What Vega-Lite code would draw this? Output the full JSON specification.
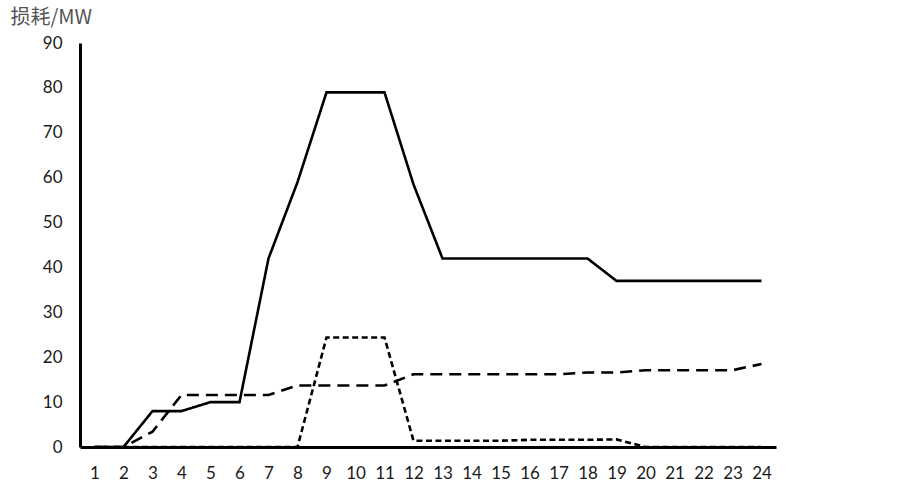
{
  "$schema": "https://vega.github.io/schema/vega-lite/v6.json",
  "width": 696,
  "height": 404,
  "autosize": {"type": "none"},
  "padding": {"left": 80, "top": 43, "right": 127, "bottom": 36},
  "background": "white",
  "config": {"view": {"stroke": null}, "font": "Lato"},
  "datasets": {
    "loss": [
      {"h": 1, "s": "A", "v": 0}, {"h": 2, "s": "A", "v": 0}, {"h": 3, "s": "A", "v": 8}, {"h": 4, "s": "A", "v": 8},
      {"h": 5, "s": "A", "v": 10}, {"h": 6, "s": "A", "v": 10}, {"h": 7, "s": "A", "v": 42}, {"h": 8, "s": "A", "v": 59},
      {"h": 9, "s": "A", "v": 79}, {"h": 10, "s": "A", "v": 79}, {"h": 11, "s": "A", "v": 79}, {"h": 12, "s": "A", "v": 58.5},
      {"h": 13, "s": "A", "v": 42}, {"h": 14, "s": "A", "v": 42}, {"h": 15, "s": "A", "v": 42}, {"h": 16, "s": "A", "v": 42},
      {"h": 17, "s": "A", "v": 42}, {"h": 18, "s": "A", "v": 42}, {"h": 19, "s": "A", "v": 37}, {"h": 20, "s": "A", "v": 37},
      {"h": 21, "s": "A", "v": 37}, {"h": 22, "s": "A", "v": 37}, {"h": 23, "s": "A", "v": 37}, {"h": 24, "s": "A", "v": 37},
      {"h": 1, "s": "B", "v": 0}, {"h": 2, "s": "B", "v": 0}, {"h": 3, "s": "B", "v": 3.4}, {"h": 4, "s": "B", "v": 11.6},
      {"h": 5, "s": "B", "v": 11.6}, {"h": 6, "s": "B", "v": 11.6}, {"h": 7, "s": "B", "v": 11.6}, {"h": 8, "s": "B", "v": 13.7},
      {"h": 9, "s": "B", "v": 13.7}, {"h": 10, "s": "B", "v": 13.7}, {"h": 11, "s": "B", "v": 13.7}, {"h": 12, "s": "B", "v": 16.2},
      {"h": 13, "s": "B", "v": 16.2}, {"h": 14, "s": "B", "v": 16.2}, {"h": 15, "s": "B", "v": 16.2}, {"h": 16, "s": "B", "v": 16.2},
      {"h": 17, "s": "B", "v": 16.2}, {"h": 18, "s": "B", "v": 16.6}, {"h": 19, "s": "B", "v": 16.6}, {"h": 20, "s": "B", "v": 17.1},
      {"h": 21, "s": "B", "v": 17.1}, {"h": 22, "s": "B", "v": 17.1}, {"h": 23, "s": "B", "v": 17.1}, {"h": 24, "s": "B", "v": 18.5},
      {"h": 1, "s": "C", "v": 0}, {"h": 2, "s": "C", "v": 0}, {"h": 3, "s": "C", "v": 0}, {"h": 4, "s": "C", "v": 0},
      {"h": 5, "s": "C", "v": 0}, {"h": 6, "s": "C", "v": 0}, {"h": 7, "s": "C", "v": 0}, {"h": 8, "s": "C", "v": 0},
      {"h": 9, "s": "C", "v": 24.4}, {"h": 10, "s": "C", "v": 24.4}, {"h": 11, "s": "C", "v": 24.4}, {"h": 12, "s": "C", "v": 1.4},
      {"h": 13, "s": "C", "v": 1.4}, {"h": 14, "s": "C", "v": 1.4}, {"h": 15, "s": "C", "v": 1.4}, {"h": 16, "s": "C", "v": 1.6},
      {"h": 17, "s": "C", "v": 1.6}, {"h": 18, "s": "C", "v": 1.6}, {"h": 19, "s": "C", "v": 1.7}, {"h": 20, "s": "C", "v": 0},
      {"h": 21, "s": "C", "v": 0}, {"h": 22, "s": "C", "v": 0}, {"h": 23, "s": "C", "v": 0}, {"h": 24, "s": "C", "v": 0}
    ]
  },
  "data": {"name": "loss"},
  "mark": {"type": "line", "color": "black", "strokeWidth": 2.6, "strokeJoin": "miter"},
  "encoding": {
    "x": {
      "field": "h", "type": "ordinal", "sort": "ascending",
      "scale": {"type": "point", "padding": 0.5},
      "axis": {
        "title": null, "labelAngle": 0, "ticks": false, "grid": false,
        "domainColor": "black", "domainWidth": 3,
        "labelFontSize": 17, "labelColor": "#1a1a1a", "labelPadding": 26, "labelBaseline": "middle"
      }
    },
    "y": {
      "field": "v", "type": "quantitative",
      "scale": {"domain": [0, 90], "nice": false},
      "axis": {
        "values": [0, 10, 20, 30, 40, 50, 60, 70, 80, 90],
        "ticks": false, "grid": false,
        "domainColor": "black", "domainWidth": 3,
        "labelFontSize": 17, "labelColor": "#1a1a1a", "labelPadding": 18,
        "title": "损耗/MW", "titleAngle": 0, "titleAlign": "left", "titleBaseline": "middle",
        "titleX": -70, "titleY": -26, "titleFontSize": 20, "titleFontWeight": "normal",
        "titleColor": "#555555", "titleFont": "Noto Sans CJK SC"
      }
    },
    "detail": {"field": "s"},
    "strokeDash": {
      "field": "s", "type": "nominal",
      "scale": {"domain": ["A", "B", "C"], "range": [[1, 0], [12, 7], [6, 3.5]]},
      "legend": null
    }
  }
}
